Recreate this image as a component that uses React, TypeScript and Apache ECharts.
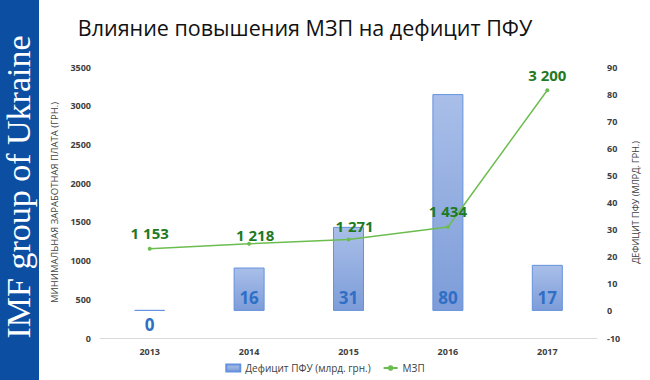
import React, { useEffect, useRef } from "react";
import * as echarts from "echarts";

const years = ["2013", "2014", "2015", "2016", "2017"];
const deficit = [0, 16, 31, 80, 17];
const minWage = [1153, 1218, 1271, 1434, 3200];
const leftTicks = { min: 0, max: 3500, interval: 500 };
const rightTicks = { min: -10, max: 90, interval: 10 };

const titleText = "Влияние повышения МЗП на дефицит ПФУ";
const sideText = "IMF group of Ukraine";
const leftName = "МИНИМАЛЬНАЯ ЗАРАБОТНАЯ ПЛАТА (ГРН.)";
const rightName = "ДЕФИЦИТ ПФУ (МЛРД. ГРН.)";
const barName = "Дефицит ПФУ (млрд. грн.)";
const lineName = "МЗП";

const fmtSpace = (v: number) => String(v).replace(/\B(?=(\d{3})+(?!\d))/g, " ");

export default function App() {
  const ref = useRef<HTMLDivElement>(null);
  useEffect(() => {
    if (!ref.current) return;
    const chart = echarts.init(ref.current, null, { renderer: "svg" });
    const lineOffsets: Record<number, number[]> = { 1: [6, 7], 2: [6, 2] };
    chart.setOption({
      animation: false,
      backgroundColor: "#ffffff",
      textStyle: { fontFamily: "'Open Sans', sans-serif" },
      title: {
        text: titleText,
        left: 300,
        top: 11,
        textAlign: "center",
        textStyle: {
          fontFamily: "'Open Sans', sans-serif",
          fontSize: 21.5,
          fontWeight: "normal",
          color: "#111111",
        },
      },
      graphic: [
        {
          type: "rect",
          shape: { x: 0, y: 0, width: 39, height: 380 },
          style: { fill: "#0b4ea2" },
          silent: true,
        },
        {
          type: "text",
          x: 18,
          y: 187,
          rotation: Math.PI / 2,
          style: {
            text: sideText,
            fill: "#ffffff",
            font: "34px 'Liberation Serif', 'Times New Roman', serif",
            align: "center",
            verticalAlign: "middle",
          },
          silent: true,
        },
      ],
      legend: {
        bottom: 2,
        left: "center",
        itemWidth: 14,
        itemHeight: 7,
        itemGap: 12,
        textStyle: { fontSize: 10, color: "#404040" },
        data: [
          { name: barName, icon: "rect" },
          { name: lineName },
        ],
      },
      grid: { left: 100, right: 53, top: 67, bottom: 42 },
      xAxis: {
        type: "category",
        data: years,
        axisTick: { show: false },
        axisLine: { lineStyle: { color: "#d9d9d9", width: 1 } },
        axisLabel: { fontSize: 9, color: "#404040", fontWeight: "bold", margin: 9 },
      },
      yAxis: [
        {
          type: "value",
          ...leftTicks,
          name: leftName,
          nameLocation: "middle",
          nameGap: 36,
          nameTextStyle: { fontSize: 9.5, color: "#404040" },
          splitLine: { show: false },
          axisLine: { show: false },
          axisTick: { show: false },
          axisLabel: {
            fontSize: 9,
            color: "#404040",
            fontWeight: "bold",
            margin: 9,
            formatter: (v: number) => String(v),
          },
        },
        {
          type: "value",
          ...rightTicks,
          name: rightName,
          nameLocation: "middle",
          nameGap: 33,
          nameRotate: 90,
          nameTextStyle: { fontSize: 9, color: "#404040" },
          splitLine: { show: false },
          axisLine: { show: false },
          axisTick: { show: false },
          axisLabel: {
            fontSize: 9,
            color: "#404040",
            fontWeight: "bold",
            margin: 10,
            formatter: (v: number) => String(v),
          },
        },
      ],
      series: [
        {
          name: barName,
          type: "bar",
          yAxisIndex: 1,
          barWidth: 31,
          barMinHeight: 1,
          data: deficit.map((v) =>
            v === 0
              ? { value: v, label: { position: "bottom", distance: 5 } }
              : v
          ),
          itemStyle: {
            color: new echarts.graphic.LinearGradient(0, 0, 0, 1, [
              { offset: 0, color: "#a9bfe9" },
              { offset: 1, color: "#7d9cd8" },
            ]),
            borderColor: "#6592de",
            borderWidth: 1,
          },
          label: {
            show: true,
            position: "insideBottom",
            distance: 5,
            fontSize: 17,
            fontWeight: "bold",
            color: "#2f6fc6",
          },
        },
        {
          name: lineName,
          type: "line",
          yAxisIndex: 0,
          data: minWage.map((v, i) =>
            lineOffsets[i] ? { value: v, label: { offset: lineOffsets[i] } } : v
          ),
          symbol: "circle",
          symbolSize: 4,
          lineStyle: { color: "#6cbd4f", width: 1.5 },
          itemStyle: { color: "#6cbd4f" },
          label: {
            show: true,
            position: "top",
            distance: 6,
            fontSize: 15,
            fontWeight: "bold",
            color: "#1f7a1f",
            formatter: (p: any) => fmtSpace(p.value),
          },
        },
      ],
    });
    return () => chart.dispose();
  }, []);
  return (
    <div
      ref={ref}
      style={{ position: "fixed", left: 0, top: 0, width: 650, height: 380 }}
    />
  );
}
